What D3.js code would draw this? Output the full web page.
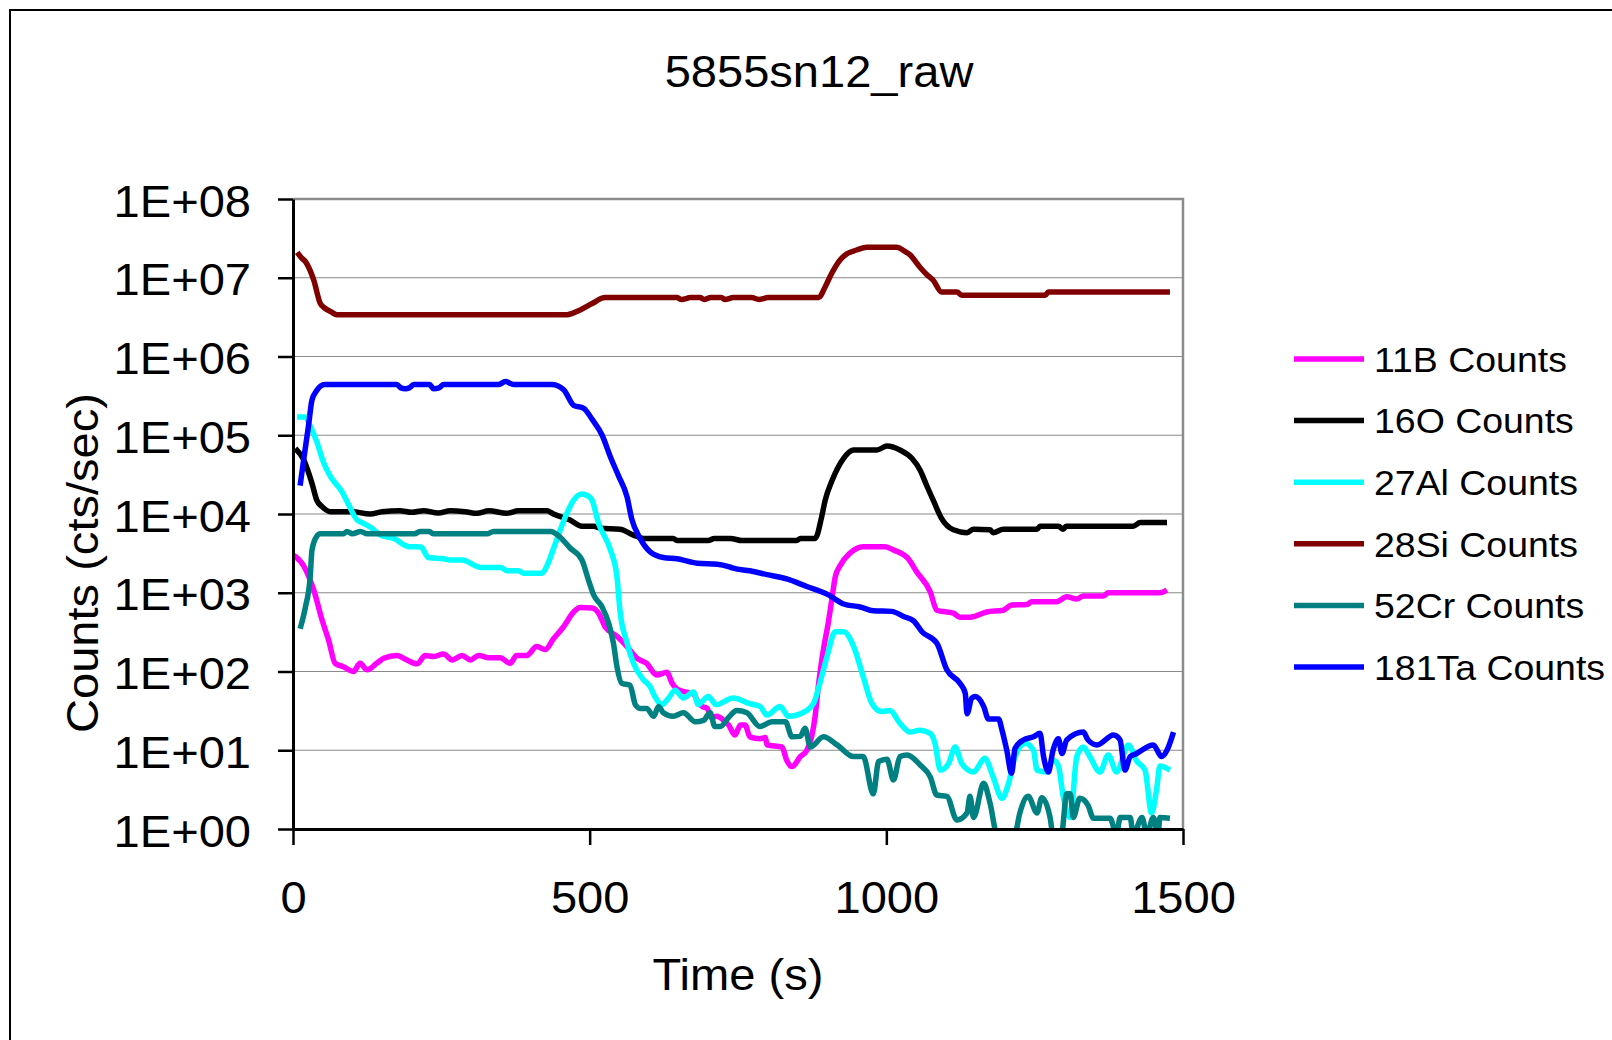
<!DOCTYPE html>
<html>
<head>
<meta charset="utf-8">
<script src="https://cdn.jsdelivr.net/npm/d3@7"></script>
<style>
  html, body { margin: 0; padding: 0; background: #fff; }
  svg { display: block; }
  text { font-family: Arial, "Liberation Sans", sans-serif; fill: #000; }
</style>
</head>
<body>
<svg id="chart" width="1612" height="1040"></svg>
<script>
// ---- data: [time (s), counts (cts/sec)] ----
const chartTitle = "5855sn12_raw";
const xTitle = "Time (s)";
const yTitle = "Counts (cts/sec)";
const xTicks = [0, 500, 1000, 1500];
const yTicks = [1, 10, 100, 1e3, 1e4, 1e5, 1e6, 1e7, 1e8];
const yTickLabels = ["1E+00", "1E+01", "1E+02", "1E+03", "1E+04", "1E+05", "1E+06", "1E+07", "1E+08"];

const seriesNames = ["11B Counts", "16O Counts", "27Al Counts", "28Si Counts", "52Cr Counts", "181Ta Counts"];
const seriesColors = ["#FF00FF", "#000000", "#00FFFF", "#800000", "#008080", "#0000FF"];

const b11 = [[1,3000],[18,2200],[35,1080],[49,450],[60,250],[71,127],[85,115],[102,100],[113,127],[125,105],
  [141,127],[153,147],[175,160],[192,140],[209,125],[223,160],[237,155],[254,167],[268,140],[285,160],[299,140],
  [313,160],[330,150],[349,150],[366,127],[377,160],[394,160],[411,207],[425,190],[439,260],[456,370],[473,570],
  [484,650],[504,640],[515,550],[526,370],[546,280],[563,207],[580,147],[596,127],[613,90],[630,98],[639,71],
  [647,60],[661,55],[675,52],[683,40],[690,36],[698,34],[705,26],[714,27],[726,24],[734,21],[745,15.6],[754,21],
  [762,21],[770,14.8],[787,14],[796,14.5],[799,11.7],[824,11],[832,7.5],[841,6.2],[855,8.3],[866,10],[874,14.8],
  [880,27],[886,71],[894,190],[902,410],[908,810],[914,1600],[922,2200],[939,3200],[961,3850],[998,3850],
  [1012,3500],[1037,2700],[1051,1850],[1074,1030],[1085,600],[1113,550],[1124,490],[1141,490],[1169,570],
  [1197,600],[1211,700],[1237,710],[1245,770],[1287,770],[1304,890],[1321,830],[1332,910],[1366,910],[1374,1000],
  [1461,1000],[1473,1080]];

const o16 = [[4,68000],[18,49000],[32,24500],[40,15000],[49,12400],[63,10700],[100,10700],[130,10000],[150,10700],
  [180,11000],[200,10500],[220,11000],[245,10300],[265,11000],[290,10700],[310,10200],[330,11000],[360,10200],
  [380,11000],[428,11000],[439,10000],[467,8400],[487,7000],[507,7000],[518,6600],[551,6400],[574,5400],[591,4900],
  [641,4900],[647,4600],[700,4600],[710,4900],[737,4900],[757,4600],[849,4600],[855,4900],[880,4900],[891,9200],
  [897,15000],[908,26000],[928,51000],[945,65000],[984,65000],[1001,73000],[1023,65000],[1043,51000],[1057,36000],
  [1068,23000],[1079,15000],[1093,8800],[1113,6300],[1136,5800],[1147,6400],[1175,6300],[1180,5800],[1197,6400],
  [1254,6400],[1259,7000],[1290,7000],[1298,6400],[1303,7000],[1416,7000],[1428,7800],[1473,7800]];

const al27 = [[7,170000],[21,170000],[29,130000],[40,83000],[52,44000],[63,30000],[83,19000],[94,13000],[108,8400],
  [119,7600],[133,6600],[147,5400],[170,4900],[195,3850],[216,3800],[228,2800],[254,2700],[265,2600],[285,2600],
  [316,2100],[350,2100],[361,1900],[380,1900],[389,1770],[420,1770],[428,2200],[442,4200],[459,9200],[473,15000],
  [487,18000],[497,17000],[504,15000],[515,7600],[535,3500],[546,1600],[551,600],[563,230],[574,126],[591,78],
  [602,64],[610,48],[622,38],[633,46],[644,58],[658,46],[675,55],[683,38],[700,48],[713,38],[742,46],[770,39],
  [787,36],[799,28],[821,36],[835,27],[855,29],[877,39],[888,71],[900,155],[914,320],[928,320],[945,207],[961,86],
  [976,39],[992,31],[1006,32],[1023,22],[1040,17],[1057,18],[1074,16.4],[1082,12.3],[1091,5.6],[1105,6.8],
  [1116,11],[1127,6.8],[1147,5.3],[1166,7.9],[1180,4.6],[1195,2.45],[1206,3.8],[1217,8.3],[1234,12.3],[1248,10],
  [1254,5.6],[1270,5.3],[1281,7.5],[1290,6.3],[1298,2.6],[1310,1.4],[1321,8.3],[1332,11],[1343,8.3],[1360,5.3],
  [1374,8.7],[1388,5.3],[1408,11.7],[1422,7.3],[1436,5.6],[1447,1.6],[1456,3.4],[1461,6.3],[1478,5.6]];

const si28 = [[7,21000000],[14,18000000],[21,16000000],[35,9300000],[46,4700000],[54,4100000],[64,3700000],
  [74,3400000],[462,3400000],[484,3900000],[504,4700000],[526,5600000],[647,5600000],[655,5300000],[670,5600000],
  [686,5600000],[693,5300000],[704,5600000],[722,5600000],[728,5300000],[742,5600000],[773,5600000],[785,5300000],
  [801,5600000],[886,5600000],[897,7700000],[908,11400000],[922,16800000],[933,20000000],[950,22500000],
  [967,24400000],[1018,24400000],[1030,22000000],[1040,19500000],[1057,13500000],[1068,11000000],[1079,9300000],
  [1093,6600000],[1119,6600000],[1127,6000000],[1268,6000000],[1273,6600000],[1478,6600000]];

const cr52 = [[12,350],[21,660],[29,1600],[32,3500],[40,5200],[46,5600],[85,5600],[91,6000],[100,5600],[114,6000],
  [125,5600],[205,5600],[214,6000],[230,6000],[236,5600],[327,5600],[338,6000],[434,6000],[450,5100],[467,3700],
  [487,2600],[498,1450],[507,930],[521,660],[532,410],[540,230],[546,115],[554,71],[568,67],[577,38],[585,34],
  [596,34],[608,27],[616,36],[624,30],[641,27],[658,30],[678,23],[692,24],[703,30],[711,20],[720,20],[734,26],
  [748,32],[765,30],[787,20],[807,23],[830,23],[841,14.8],[855,15],[863,19],[872,11],[894,14.8],[917,11.7],
  [945,8.3],[961,8.3],[978,2.8],[987,7.2],[1001,7.7],[1012,4.2],[1023,8.3],[1035,8.7],[1057,6.5],[1074,4.6],
  [1085,2.7],[1102,2.6],[1119,1.3],[1136,1.6],[1141,2.6],[1147,1.4],[1164,3.8],[1175,2.1],[1186,0.9],[1217,0.9],
  [1225,1.6],[1239,2.6],[1254,1.6],[1262,2.5],[1276,1.4],[1281,0.85],[1295,0.85],[1304,2.8],[1310,2.8],[1315,1.4],
  [1326,2.45],[1340,2.0],[1349,1.37],[1377,1.37],[1388,0.85],[1394,1.4],[1411,1.4],[1416,0.85],[1431,1.4],
  [1439,0.85],[1450,1.4],[1458,0.85],[1461,1.4],[1478,1.37]];

const ta181 = [[12,23000],[18,49000],[26,130000],[32,280000],[40,370000],[46,420000],[54,440000],[175,440000],
  [182,400000],[189,390000],[196,400000],[204,440000],[230,440000],[237,390000],[246,400000],[254,440000],
  [346,440000],[358,480000],[372,440000],[436,440000],[456,380000],[473,240000],[490,220000],[504,160000],
  [521,100000],[535,53000],[549,30000],[563,16500],[571,8600],[585,4900],[602,3300],[624,2800],[647,2700],
  [681,2370],[715,2300],[734,2150],[742,2050],[770,1900],[799,1700],[832,1500],[866,1200],[900,960],[928,720],
  [956,660],[978,590],[1009,580],[1029,500],[1046,440],[1060,320],[1085,230],[1102,105],[1124,71],[1133,53],
  [1136,29],[1144,46],[1150,48],[1164,36],[1172,25],[1189,25],[1195,18],[1203,10],[1211,5.1],[1217,10.6],
  [1231,13.5],[1248,14.8],[1259,16.4],[1265,8.3],[1273,5.3],[1281,10],[1290,14],[1296,9.1],[1304,13.5],[1332,17],
  [1340,13.5],[1355,11.7],[1383,15.6],[1394,13.5],[1402,5.6],[1411,8.3],[1422,9.1],[1450,11.7],[1464,8.3],
  [1473,10],[1484,17]];

const seriesData = [b11, o16, al27, si28, cr52, ta181];

// ---- layout ----
const svg = d3.select("#chart");
const plot = { left: 293, right: 1183, top: 199, bottom: 829 };
const textStretch = 1.07;   // slightly wide sans face

const x = d3.scaleLinear().domain([0, 1500]).range([plot.left, plot.right]);
const y = d3.scaleLog().domain([1, 1e8]).range([plot.bottom, plot.top]);

function placeText(sel, tx, ty, opts = {}) {
  const rot = opts.rotate ? ` rotate(${opts.rotate})` : "";
  return sel.append("text")
    .attr("transform", `translate(${tx},${ty})${rot} scale(${textStretch},1)`)
    .attr("text-anchor", opts.anchor || "middle")
    .style("font-size", (opts.size || 44) + "px")
    .text(opts.text);
}

// outer chart frame
svg.append("path")
  .attr("d", "M10,1040 L10,10 L1612,10")
  .attr("fill", "none").attr("stroke", "#000").attr("stroke-width", 2);

// title
placeText(svg, 819, 87, { text: chartTitle, size: 44 });

// horizontal gridlines
svg.append("g")
  .selectAll("line")
  .data(yTicks.slice(1, -1))
  .join("line")
  .attr("x1", plot.left).attr("x2", plot.right)
  .attr("y1", d => y(d)).attr("y2", d => y(d))
  .attr("stroke", "#8a8a8a").attr("stroke-width", 1.2);

// plot border (top and right)
svg.append("path")
  .attr("d", `M${plot.left},${plot.top} L${plot.right},${plot.top} L${plot.right},${plot.bottom}`)
  .attr("fill", "none").attr("stroke", "#8c8c8c").attr("stroke-width", 2.5);

// series
svg.append("defs").append("clipPath").attr("id", "plotClip")
  .append("rect")
  .attr("x", plot.left).attr("y", plot.top)
  .attr("width", plot.right - plot.left).attr("height", plot.bottom - plot.top);

const line = d3.line()
  .x(d => x(d[0]))
  .y(d => y(d[1]))
  .curve(d3.curveMonotoneX);

svg.append("g")
  .attr("clip-path", "url(#plotClip)")
  .selectAll("path")
  .data(seriesData)
  .join("path")
  .attr("d", line)
  .attr("fill", "none")
  .attr("stroke", (d, i) => seriesColors[i])
  .attr("stroke-width", 5.5)
  .attr("stroke-linejoin", "round")
  .attr("stroke-linecap", "butt");

// y axis
const yAxis = svg.append("g")
  .attr("transform", `translate(${plot.left},0)`)
  .call(d3.axisLeft(y).tickValues(yTicks).tickSize(15).tickSizeOuter(0)
    .tickFormat((d, i) => yTickLabels[i]));
yAxis.select(".domain").attr("stroke", "#000").attr("stroke-width", 3);
yAxis.selectAll(".tick line").attr("stroke", "#000").attr("stroke-width", 2.5);
yAxis.selectAll(".tick text")
  .attr("x", null).attr("dy", null)
  .attr("transform", `translate(-42,17) scale(${textStretch},1)`)
  .attr("text-anchor", "end")
  .attr("fill", "#000")
  .style("font-size", "44px")
  .style("font-family", "Arial, 'Liberation Sans', sans-serif");

// x axis
const xAxis = svg.append("g")
  .attr("transform", `translate(0,${plot.bottom})`)
  .call(d3.axisBottom(x).tickValues(xTicks).tickSize(16).tickSizeOuter(0).tickFormat(d3.format("d")));
xAxis.select(".domain").attr("stroke", "#000").attr("stroke-width", 3);
xAxis.selectAll(".tick line").attr("stroke", "#000").attr("stroke-width", 2.5);
xAxis.selectAll(".tick text")
  .attr("y", null).attr("dy", null)
  .attr("transform", `translate(0,84) scale(${textStretch},1)`)
  .attr("text-anchor", "middle")
  .attr("fill", "#000")
  .style("font-size", "44px")
  .style("font-family", "Arial, 'Liberation Sans', sans-serif");

// axis titles
placeText(svg, 738, 990, { text: xTitle, size: 44 });
placeText(svg, 98, 563, { text: yTitle, size: 44, rotate: -90 });

// legend
const legendTop = 359, legendStep = 61.6;
const legend = svg.append("g")
  .selectAll("g")
  .data(seriesNames)
  .join("g")
  .attr("transform", (d, i) => `translate(0,${legendTop + i * legendStep})`);
legend.append("line")
  .attr("x1", 1294).attr("x2", 1364).attr("y1", 0).attr("y2", 0)
  .attr("stroke", (d, i) => seriesColors[i]).attr("stroke-width", 5.5);
legend.each(function (d) {
  placeText(d3.select(this), 1374, 12.7, { text: d, size: 35, anchor: "start" });
});
</script>
</body>
</html>
